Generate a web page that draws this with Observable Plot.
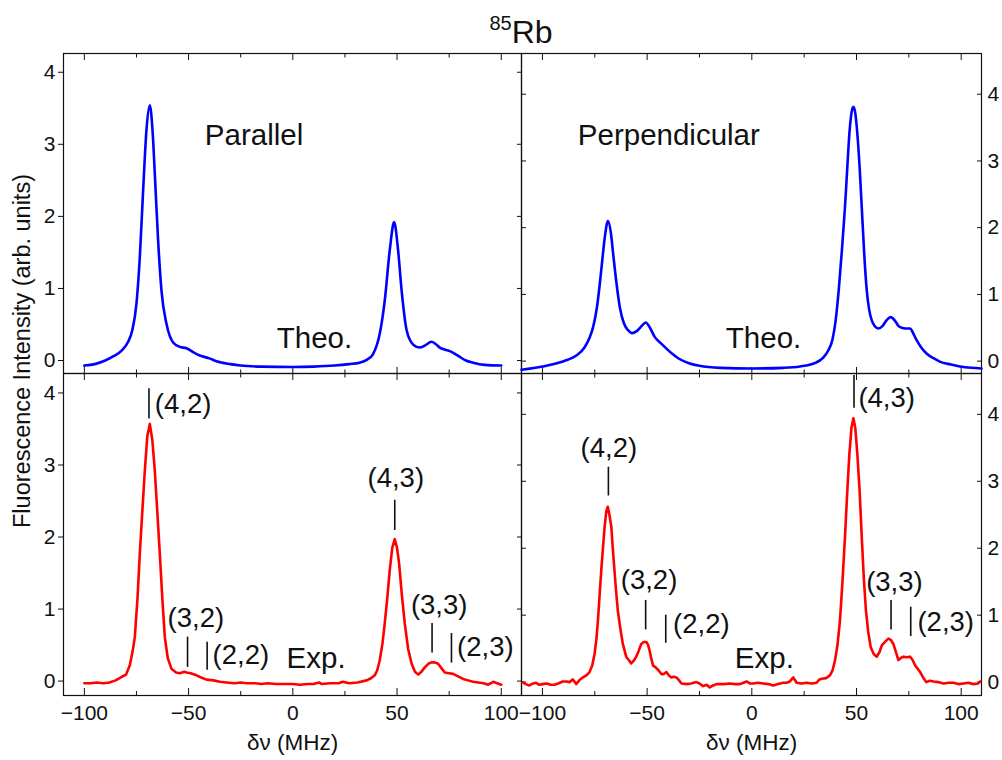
<!DOCTYPE html>
<html><head><meta charset="utf-8">
<script src="https://cdn.jsdelivr.net/npm/d3@7"></script>
<script src="https://cdn.jsdelivr.net/npm/@observablehq/plot@0.6"></script>
<style>
body{margin:0;background:#fff;font-family:"Liberation Sans",Arial,sans-serif;}
#wrap{position:relative;width:1002px;height:760px;overflow:hidden;}
.panel{position:absolute;}
.panel svg{overflow:visible;max-width:none;}
#title{position:absolute;left:0;top:12px;width:1042px;text-align:center;font-size:32px;line-height:40px;color:#111;}
#title span{font-size:20px;position:relative;top:-13px;}
#ylab{position:absolute;left:-228px;top:336px;width:500px;height:30px;line-height:30px;text-align:center;font-size:23.5px;color:#111;transform:rotate(-90deg);white-space:nowrap;}
</style></head><body>
<div id="wrap">
  <div class="panel" id="tl" style="left:0;top:0"></div>
  <div class="panel" id="tr" style="left:520px;top:0"></div>
  <div class="panel" id="bl" style="left:0;top:372px"></div>
  <div class="panel" id="br" style="left:520px;top:372px"></div>
  <div id="title"><span>85</span>Rb</div>
  <div id="ylab">Fluorescence Intensity (arb. units)</div>
</div>
<script>
// ---- data: [detuning δν in MHz, fluorescence intensity] ----
const theoParallel = [
 [-100,-0.07],[-95,-0.05],[-90,0.0],[-86,0.06],[-82,0.14],[-79,0.26],[-77,0.42],[-75,0.79],
 [-73.4,1.43],[-71.8,2.36],[-70.2,3.2],[-68.6,3.54],[-67.2,3.15],[-66.2,2.59],[-64.6,1.66],
 [-63,0.97],[-60.6,0.51],[-57.4,0.25],[-54.2,0.19],[-51,0.17],[-48,0.12],[-44.6,0.07],
 [-40,0.03],[-36.6,-0.01],[-30,-0.05],[-25,-0.07],[-15,-0.085],[0,-0.09],[10,-0.085],
 [20,-0.07],[27,-0.05],[32,-0.03],[35.5,0.01],[38.5,0.09],[41.7,0.37],[44.1,0.83],[46.5,1.53],
 [48.6,1.92],[50.5,1.53],[52.2,0.97],[54.6,0.42],[57.8,0.22],[60.9,0.18],[63.5,0.21],
 [66.5,0.26],[68.5,0.23],[70.5,0.18],[73,0.15],[75.3,0.13],[78,0.09],[80.1,0.05],[83,0.0],
 [86.5,-0.03],[92,-0.06],[100,-0.07]
];
const theoPerpendicular = [
 [-110,-0.13],[-100,-0.08],[-94,-0.04],[-88,0.02],[-84,0.08],[-80,0.2],[-77.5,0.35],[-75.8,0.51],
 [-74,0.8],[-72.6,1.16],[-71.3,1.55],[-70.2,1.86],[-68.7,2.10],[-67.3,1.92],[-66.2,1.6],
 [-64.6,1.16],[-63,0.8],[-61,0.56],[-59,0.46],[-57.2,0.42],[-55,0.45],[-52.5,0.53],[-50.7,0.58],
 [-49,0.52],[-46.3,0.36],[-43.5,0.27],[-41.5,0.21],[-38,0.11],[-35,0.04],[-30,-0.03],[-25,-0.07],
 [-15,-0.1],[0,-0.11],[15,-0.1],[23,-0.08],[30,-0.03],[34,0.05],[36.5,0.16],[38.5,0.32],
 [40,0.6],[41.5,1.06],[43,1.65],[44.5,2.31],[45.6,2.9],[46.6,3.41],[47.6,3.72],[48.5,3.81],
 [49.4,3.72],[50.4,3.41],[51.5,2.9],[52.5,2.31],[53.7,1.6],[54.9,1.06],[56,0.78],[57.3,0.61],
 [58.8,0.52],[60.4,0.49],[62.5,0.53],[64.5,0.62],[66.4,0.66],[68.5,0.6],[70,0.53],[71.6,0.5],
 [73.5,0.49],[75.6,0.49],[77.2,0.41],[78.8,0.31],[81,0.2],[83.6,0.11],[87,0.04],[90,-0.01],
 [95,-0.05],[99.5,-0.08],[105,-0.1],[109.7,-0.11]
];
const expParallel = [
 [-100,-0.03],[-97,-0.03],[-94,-0.02],[-91,-0.03],[-88,-0.02],[-85,0.01],[-82,0.06],[-80,0.09],
 [-78.2,0.22],[-76.8,0.42],[-75.8,0.61],[-74.5,1.15],[-73.4,1.77],[-72.2,2.35],[-71,2.92],
 [-69.8,3.4],[-68.6,3.57],[-67.4,3.35],[-66.2,2.92],[-65,2.35],[-63.8,1.77],[-62.6,1.15],
 [-61.4,0.61],[-60,0.32],[-58.2,0.17],[-56,0.12],[-54.2,0.11],[-52,0.13],[-51,0.12],[-49,0.11],
 [-46.2,0.08],[-44,0.05],[-41.4,0.02],[-38,0.01],[-35,-0.01],[-31.8,-0.02],[-28,-0.03],
 [-25,-0.02],[-22,-0.03],[-18,-0.03],[-15,-0.04],[-12,-0.03],[-8,-0.04],[-4,-0.04],[0,-0.04],
 [3.4,-0.05],[7,-0.04],[10,-0.04],[12.5,-0.02],[14,-0.04],[18,-0.03],[22,-0.03],[24,-0.01],
 [27,-0.03],[31,-0.02],[35.4,0.01],[37.5,0.04],[39.3,0.08],[40.5,0.15],[41.7,0.29],[43,0.52],
 [44.1,0.80],[45.3,1.15],[46.5,1.54],[47.7,1.85],[48.9,1.97],[50,1.85],[51,1.63],[52.3,1.2],
 [53.7,0.80],[55.3,0.45],[57,0.24],[58.6,0.13],[60.2,0.09],[61.7,0.13],[63.3,0.19],[65,0.24],
 [66.5,0.26],[68,0.26],[69.7,0.24],[71.3,0.18],[72.9,0.12],[75,0.11],[76.9,0.10],[79,0.07],
 [81.7,0.03],[84,0.01],[86.5,-0.01],[89,-0.02],[91.5,-0.03],[93.7,-0.05],[95,-0.03],[96.1,-0.01],
 [98,-0.03],[100,-0.05]
];
const expPerpendicular = [
 [-109.4,0.00],[-108,-0.03],[-106.2,-0.05],[-104.5,-0.02],[-103,-0.01],[-101.5,-0.04],[-99.9,-0.03],
 [-98,-0.02],[-96,-0.04],[-94.3,-0.04],[-92.5,-0.02],[-90.3,0.01],[-88.5,0.01],[-87.1,0.0],
 [-85.5,0.04],[-84.5,0.0],[-83.9,-0.03],[-82.3,0.03],[-80.7,0.07],[-79,0.1],[-77.5,0.15],
 [-76.2,0.25],[-75.1,0.42],[-74.2,0.65],[-73.5,0.92],[-72.7,1.3],[-71.9,1.67],[-71.1,2.0],
 [-70.3,2.32],[-69.5,2.55],[-68.8,2.62],[-68,2.5],[-67.1,2.32],[-66.4,2.0],[-65.6,1.67],
 [-64.8,1.35],[-64,1.07],[-62.8,0.8],[-61.6,0.57],[-60,0.38],[-58.8,0.33],[-57.6,0.28],
 [-56.4,0.32],[-55.2,0.38],[-54,0.47],[-52.8,0.57],[-51.6,0.6],[-50.4,0.60],[-49.6,0.56],
 [-48.8,0.47],[-48,0.35],[-47.2,0.25],[-45.6,0.21],[-44.4,0.17],[-43.2,0.12],[-42,0.12],
 [-40.8,0.15],[-39.6,0.1],[-38.4,0.07],[-37.2,0.08],[-36,0.07],[-34.8,0.03],[-33.6,-0.02],
 [-31.2,-0.03],[-29,-0.02],[-26.5,0.00],[-25,-0.02],[-23.3,-0.06],[-21.5,-0.04],[-20.1,-0.08],
 [-18.5,-0.05],[-16.9,-0.03],[-13.5,-0.03],[-10.5,-0.02],[-8,-0.03],[-5.7,-0.03],[-4,-0.01],
 [-2.5,0.01],[-1,-0.02],[0.6,-0.02],[3,-0.01],[5.4,-0.02],[8,-0.03],[10.2,-0.05],[12.5,-0.03],
 [15,-0.01],[16.7,-0.01],[18.2,0.01],[19.8,0.07],[21.4,-0.01],[23.8,-0.02],[26.2,-0.01],
 [28.5,-0.02],[31,-0.01],[32.3,0.04],[33.4,0.05],[35.5,0.06],[37.3,0.10],[38.6,0.18],[39.7,0.32],
 [40.9,0.55],[42.1,0.92],[43.3,1.5],[44.5,2.17],[45.6,2.85],[46.6,3.41],[47.6,3.8],[48.5,3.94],
 [49.4,3.8],[50.4,3.41],[51.5,2.85],[52.5,2.17],[53.5,1.55],[54.5,1.07],[55.6,0.75],[56.8,0.52],
 [58.2,0.42],[59.7,0.38],[61,0.45],[62.1,0.55],[63.6,0.6],[65.2,0.65],[66.4,0.63],[67.6,0.57],
 [68.8,0.45],[70,0.33],[71.2,0.36],[72.4,0.38],[74,0.37],[75.6,0.38],[76.8,0.33],[78,0.25],
 [79.2,0.2],[80.4,0.15],[81.8,0.07],[83.3,0.0],[85,0.02],[86.8,0.01],[89,0.0],[91.5,-0.02],
 [94,-0.01],[96.3,-0.01],[98.6,-0.03],[101.1,-0.02],[103.5,-0.01],[105.9,-0.03],[108,-0.02],
 [109.1,0.01]
];
// tick values and axis text
const xMajorTicks = [-100, -50, 0, 50, 100];
const xMinorTicks = [-75, -25, 25, 75];
const yMajorTicks = [0, 1, 2, 3, 4];
const xAxisLabel = "δν (MHz)";
// annotations: [text, x, y]
const notesTL = [["Parallel", -42.2, 3.12], ["Theo.", -7.7, 0.30]];
const notesTR = [["Perpendicular", -83.1, 3.38], ["Theo.", -12.4, 0.34]];
const notesBL = [["Exp.", -3, 0.31]];
const notesBR = [["Exp.", -8.1, 0.35]];
// peak labels: [text, x, y, anchor]
const peakLabelsBL = [["(4,2)", -66.2, 3.85, "start"], ["(4,3)", 49.4, 2.81, "middle"], ["(3,2)", -46.5, 0.87, "middle"],
  ["(2,2)", -38.5, 0.36, "start"], ["(3,3)", 70.2, 1.05, "middle"], ["(2,3)", 78.8, 0.47, "start"]];
const peakLabelsBR = [["(4,2)", -68.3, 3.49, "middle"], ["(4,3)", 50.9, 4.24, "start"], ["(3,2)", -49.1, 1.52, "middle"],
  ["(2,2)", -37.6, 0.87, "start"], ["(3,3)", 68.1, 1.49, "middle"], ["(2,3)", 79.1, 0.90, "start"]];
// marker lines: [x, y1, y2]
const markersBL = [[-69, 3.64, 4.06], [48.9, 2.09, 2.51], [-50.5, 0.19, 0.61], [-41.1, 0.15, 0.54], [66.8, 0.39, 0.80], [76.1, 0.25, 0.66]];
const markersBR = [[-68.5, 2.78, 3.21], [48.8, 4.09, 4.58], [-50.7, 0.78, 1.22], [-41.1, 0.58, 1.0], [66.5, 0.78, 1.22], [75.9, 0.68, 1.12]];

const FONT = '"Liberation Sans", Arial, sans-serif';
const INK = "#111";
const blank = () => "";
const intFmt = d => String(d);

function panel({series, color, curve, yDomain, side, showX, width, height, margins, notes, labels, markers}) {
  const bTick = showX ? 7 : 6, bMinor = showX ? 4 : 3.5;
  const marks = [
    Plot.frame({stroke: INK, strokeWidth: 1.2}),
    Plot.axisX(xMajorTicks, {anchor: "top", tickSize: 6, dy: 6, tickFormat: blank, label: null}),
    Plot.axisX(xMinorTicks, {anchor: "top", tickSize: 3.5, dy: 3.5, tickFormat: blank, label: null}),
    Plot.axisX(xMajorTicks, {anchor: "bottom", tickSize: bTick, dy: -bTick, tickFormat: blank, label: null}),
    Plot.axisX(xMinorTicks, {anchor: "bottom", tickSize: bMinor, dy: -bMinor, tickFormat: blank, label: null})
  ];
  if (showX) {
    marks.push(Plot.axisX(xMajorTicks, {anchor: "bottom", tickSize: 0, tickPadding: 10, fontSize: 21, label: null}));
    marks.push(Plot.text([xAxisLabel], {frameAnchor: "bottom", dy: 54, fontSize: 22.5, fill: INK}));
  }
  if (side === "left") {
    marks.push(Plot.axisY(yMajorTicks, {anchor: "left", tickSize: 5, tickPadding: 3, fontSize: 21, tickFormat: intFmt, label: null}));
    marks.push(Plot.axisY(yMajorTicks, {anchor: "right", tickSize: 5, dx: -5, tickFormat: blank, label: null}));
  } else {
    marks.push(Plot.axisY(yMajorTicks, {anchor: "right", tickSize: 0, tickPadding: 6, fontSize: 21, tickFormat: intFmt, label: null}));
    marks.push(Plot.axisY(yMajorTicks, {anchor: "right", tickSize: 5, dx: -5, tickFormat: blank, label: null}));
    marks.push(Plot.axisY(yMajorTicks, {anchor: "left", tickSize: 5, dx: 5, tickFormat: blank, label: null}));
  }
  marks.push(Plot.line(series, {x: d => d[0], y: d => d[1], stroke: color, strokeWidth: 2.6, curve}));
  marks.push(Plot.text(notes, {x: d => d[1], y: d => d[2], text: d => d[0], textAnchor: "start", fontSize: 29.5, fill: INK}));
  if (labels) {
    const starts = labels.filter(d => d[3] === "start");
    const mids = labels.filter(d => d[3] === "middle");
    marks.push(Plot.text(starts, {x: d => d[1], y: d => d[2], text: d => d[0], textAnchor: "start", fontSize: 27.5, fill: INK}));
    marks.push(Plot.text(mids, {x: d => d[1], y: d => d[2], text: d => d[0], textAnchor: "middle", fontSize: 27.5, fill: INK}));
  }
  if (markers) {
    marks.push(Plot.ruleX(markers, {x: d => d[0], y1: d => d[1], y2: d => d[2], stroke: INK, strokeWidth: 1.6}));
  }
  return Plot.plot({
    width, height,
    marginTop: margins[0], marginRight: margins[1], marginBottom: margins[2], marginLeft: margins[3],
    x: {domain: [-110, 109.7]},
    y: {domain: yDomain},
    style: {fontFamily: FONT, fontSize: "21px", color: INK, background: "transparent", overflow: "visible"},
    marks
  });
}

document.getElementById("tl").appendChild(panel({series: theoParallel, color: "#0000ff", curve: "monotone-x",
  yDomain: [-0.18, 4.26], side: "left", showX: false, width: 522, height: 374, margins: [53, 1, 1, 63], notes: notesTL}));
document.getElementById("tr").appendChild(panel({series: theoPerpendicular, color: "#0000ff", curve: "monotone-x",
  yDomain: [-0.185, 4.61], side: "right", showX: false, width: 482, height: 374, margins: [53, 21, 1, 1], notes: notesTR}));
document.getElementById("bl").appendChild(panel({series: expParallel, color: "#ff0000", curve: "linear",
  yDomain: [-0.2, 4.27], side: "left", showX: true, width: 522, height: 388, margins: [1, 1, 65, 63],
  notes: notesBL, labels: peakLabelsBL, markers: markersBL}));
document.getElementById("br").appendChild(panel({series: expPerpendicular, color: "#ff0000", curve: "linear",
  yDomain: [-0.2, 4.61], side: "right", showX: true, width: 482, height: 388, margins: [1, 21, 65, 1],
  notes: notesBR, labels: peakLabelsBR, markers: markersBR}));
</script>
</body></html>
